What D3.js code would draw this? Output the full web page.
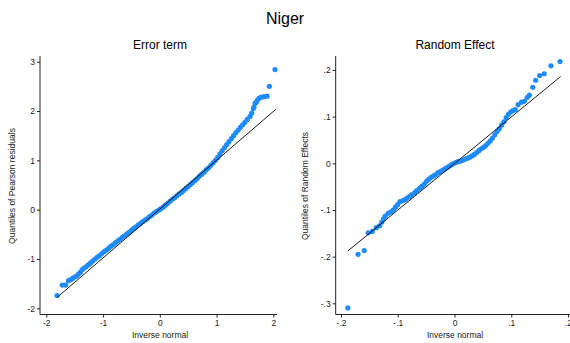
<!DOCTYPE html>
<html>
<head>
<meta charset="utf-8">
<script src="https://cdn.jsdelivr.net/npm/d3@7"></script>
<style>
  body { margin: 0; background: #fff; }
  svg { display: block; font-family: "Liberation Sans", Arial, sans-serif; }
  .tick text { font-size: 8.5px; fill: #222; }
  .tick line { stroke: #222; }
</style>
</head>
<body>
<svg id="chart" width="570" height="343"></svg>
<script>
// error term: [inverse normal, quantile of Pearson residual]
var errorPoints = [
  [-1.81, -1.74], [-1.72, -1.53], [-1.66, -1.53], [-1.61, -1.44], [-1.57, -1.42],
  [-1.53, -1.39], [-1.49, -1.36], [-1.46, -1.34], [-1.43, -1.30], [-1.40, -1.27],
  [-1.37, -1.22], [-1.34, -1.19], [-1.30, -1.16], [-1.26, -1.12], [-1.22, -1.08],
  [-1.18, -1.04], [-1.14, -1.00], [-1.10, -0.96], [-1.06, -0.93], [-1.02, -0.89],
  [-0.98, -0.85], [-0.94, -0.82], [-0.90, -0.78], [-0.86, -0.74], [-0.82, -0.71],
  [-0.78, -0.67], [-0.74, -0.63], [-0.70, -0.60], [-0.66, -0.56], [-0.62, -0.53],
  [-0.58, -0.49], [-0.54, -0.46], [-0.50, -0.42], [-0.46, -0.38], [-0.42, -0.35],
  [-0.38, -0.31], [-0.34, -0.28], [-0.30, -0.24], [-0.26, -0.21], [-0.22, -0.18],
  [-0.18, -0.14], [-0.14, -0.11], [-0.10, -0.07], [-0.06, -0.04], [-0.02, -0.01],
  [0.02, 0.02], [0.06, 0.05], [0.10, 0.09], [0.14, 0.13], [0.18, 0.17],
  [0.22, 0.21], [0.26, 0.24], [0.30, 0.28], [0.34, 0.32], [0.38, 0.35],
  [0.42, 0.39], [0.46, 0.43], [0.50, 0.47], [0.54, 0.51], [0.58, 0.55],
  [0.62, 0.59], [0.66, 0.63], [0.70, 0.68], [0.74, 0.72], [0.78, 0.76],
  [0.82, 0.81], [0.86, 0.85], [0.90, 0.90], [0.94, 0.95], [0.98, 1.00],
  [1.02, 1.06], [1.06, 1.13], [1.10, 1.20], [1.14, 1.26], [1.18, 1.32],
  [1.22, 1.38], [1.26, 1.44], [1.30, 1.50], [1.34, 1.56], [1.38, 1.61],
  [1.42, 1.67], [1.46, 1.72], [1.50, 1.77], [1.54, 1.83], [1.59, 1.89],
  [1.62, 1.96], [1.65, 2.05], [1.66, 2.08], [1.68, 2.16], [1.70, 2.18],
  [1.72, 2.22], [1.75, 2.26], [1.79, 2.28], [1.84, 2.29], [1.89, 2.30],
  [1.93, 2.50], [2.03, 2.84]
];

// random effect: [inverse normal, quantile of random effect]
var randomPoints = [
  [-0.188, -0.310], [-0.170, -0.195], [-0.159, -0.187], [-0.152, -0.149], [-0.145, -0.146],
  [-0.138, -0.138], [-0.132, -0.134], [-0.128, -0.126], [-0.125, -0.119], [-0.122, -0.113],
  [-0.117, -0.107], [-0.112, -0.104], [-0.108, -0.100], [-0.104, -0.094], [-0.100, -0.088],
  [-0.096, -0.082], [-0.091, -0.080], [-0.087, -0.078], [-0.083, -0.074], [-0.079, -0.071],
  [-0.075, -0.067], [-0.070, -0.063], [-0.066, -0.058], [-0.061, -0.053], [-0.057, -0.049],
  [-0.053, -0.044], [-0.049, -0.038], [-0.045, -0.034], [-0.041, -0.030], [-0.037, -0.027],
  [-0.033, -0.024], [-0.029, -0.020], [-0.025, -0.018], [-0.021, -0.015], [-0.017, -0.012],
  [-0.013, -0.009], [-0.009, -0.006], [-0.005, -0.003], [-0.001, 0.000], [0.003, 0.002],
  [0.007, 0.004], [0.011, 0.005], [0.015, 0.007], [0.019, 0.009], [0.023, 0.011],
  [0.027, 0.013], [0.031, 0.016], [0.035, 0.019], [0.039, 0.023], [0.043, 0.027],
  [0.047, 0.031], [0.051, 0.034], [0.055, 0.038], [0.059, 0.043], [0.063, 0.048],
  [0.067, 0.054], [0.071, 0.061], [0.075, 0.068], [0.079, 0.074], [0.083, 0.082],
  [0.087, 0.089], [0.091, 0.098], [0.095, 0.105], [0.099, 0.110], [0.103, 0.113],
  [0.107, 0.115], [0.112, 0.126], [0.118, 0.131], [0.123, 0.133], [0.128, 0.141],
  [0.132, 0.146], [0.138, 0.163], [0.143, 0.178], [0.150, 0.188], [0.158, 0.192],
  [0.170, 0.209], [0.186, 0.218]
];

// reference lines (normal with same mean / sd)
var errorLine = [[-1.81, -1.78], [2.05, 2.04]];
var randomLine = [[-0.188, -0.188], [0.187, 0.186]];

var errorXTicks = [-2, -1, 0, 1, 2];
var errorYTicks = [-2, -1, 0, 1, 2, 3];
var randomXTicks = [-0.2, -0.1, 0, 0.1, 0.2];
var randomYTicks = [-0.3, -0.2, -0.1, 0, 0.1, 0.2];

var svg = d3.select('#chart');
var dotColor = '#1e8cff';

svg.append('text')
    .attr('x', 285).attr('y', 24)
    .attr('text-anchor', 'middle')
    .style('font-size', '16px')
    .text('Niger');

var stataFmt = function (v) {
    if (v === 0) return '0';
    var s = String(+v.toFixed(2));
    return s.replace('0.', '.');
};

var panel = function (opts) {
    var g = svg.append('g');

    var x = d3.scaleLinear().domain(opts.xDomain).range(opts.xRange);
    var y = d3.scaleLinear().domain(opts.yDomain).range(opts.yRange);

    g.append('text')
        .attr('x', opts.center).attr('y', 49)
        .attr('text-anchor', 'middle')
        .style('font-size', '12px')
        .text(opts.title);

    // axis lines
    g.append('line')
        .attr('x1', opts.axisX).attr('x2', opts.axisX)
        .attr('y1', 56).attr('y2', 314.5)
        .attr('stroke', '#222').attr('stroke-width', 1);
    g.append('line')
        .attr('x1', opts.axisX).attr('x2', opts.axisEnd)
        .attr('y1', 314.5).attr('y2', 314.5)
        .attr('stroke', '#222').attr('stroke-width', 1);

    var yAxis = d3.axisLeft(y)
        .tickValues(opts.yTicks)
        .tickSize(3)
        .tickPadding(2)
        .tickFormat(stataFmt);
    g.append('g')
        .attr('transform', 'translate(' + opts.axisX + ',0)')
        .call(yAxis)
        .call(function (a) { a.select('.domain').remove(); });

    var xAxis = d3.axisBottom(x)
        .tickValues(opts.xTicks)
        .tickSize(3)
        .tickPadding(2)
        .tickFormat(stataFmt);
    g.append('g')
        .attr('transform', 'translate(0,314.5)')
        .call(xAxis)
        .call(function (a) { a.select('.domain').remove(); });

    g.append('text')
        .attr('x', opts.center).attr('y', 338)
        .attr('text-anchor', 'middle')
        .style('font-size', '8.5px')
        .style('fill', '#222')
        .text('Inverse normal');

    g.append('text')
        .attr('transform', 'translate(' + opts.yTitleX + ',186) rotate(-90)')
        .attr('text-anchor', 'middle')
        .style('font-size', '8.5px')
        .style('fill', '#222')
        .text(opts.yTitle);

    g.append('g').selectAll('circle')
        .data(opts.points)
        .enter().append('circle')
        .attr('cx', function (d) { return x(d[0]); })
        .attr('cy', function (d) { return y(d[1]); })
        .attr('r', 2.6)
        .attr('fill', dotColor);

    var line = d3.line()
        .x(function (d) { return x(d[0]); })
        .y(function (d) { return y(d[1]); });
    g.append('path')
        .attr('d', line(opts.line))
        .attr('fill', 'none')
        .attr('stroke', '#000')
        .attr('stroke-width', 0.9);
};

panel({
    title: 'Error term',
    yTitle: 'Quantiles of Pearson residuals',
    center: 160, yTitleX: 15, axisX: 40, axisEnd: 277,
    xDomain: [-2, 2], xRange: [46.3, 273.3],
    yDomain: [-2, 3], yRange: [308.3, 61.7],
    xTicks: errorXTicks, yTicks: errorYTicks,
    points: errorPoints, line: errorLine
});

panel({
    title: 'Random Effect',
    yTitle: 'Quantiles of Random Effects',
    center: 455, yTitleX: 308, axisX: 335.7, axisEnd: 570,
    xDomain: [-0.2, 0.2], xRange: [341, 568],
    yDomain: [-0.3, 0.2], yRange: [303.3, 70],
    xTicks: randomXTicks, yTicks: randomYTicks,
    points: randomPoints, line: randomLine
});
</script>
</body>
</html>
